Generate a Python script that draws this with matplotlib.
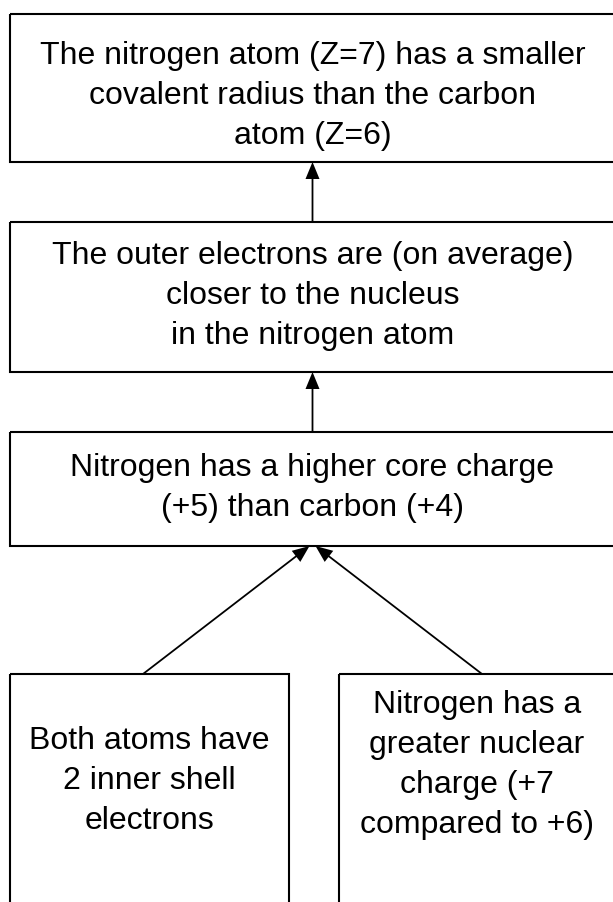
import matplotlib.pyplot as plt
from matplotlib.patches import Rectangle

plt.rcParams['font.family'] = ['Liberation Sans', 'DejaVu Sans']

# box texts (one entry per line)
texts = [
    ["The nitrogen atom (Z=7) has a smaller", "covalent radius than the carbon", "atom (Z=6)"],
    ["The outer electrons are (on average)", "closer to the nucleus", "in the nitrogen atom"],
    ["Nitrogen has a higher core charge", "(+5) than carbon (+4)"],
    ["Both atoms have", "2 inner shell", "electrons"],
    ["Nitrogen has a", "greater nuclear", "charge (+7", "compared to +6)"],
]

# layout in pixels: left, top, right, bottom, first baseline
boxes = [
    (10, 14, 615, 162, 64),
    (10, 222, 615, 372, 264),
    (10, 432, 615, 546, 476),
    (10, 674, 289, 910, 749),
    (339, 674, 615, 910, 713),
]

# arrows: source box, target box, x offset at source, x offset at target
edges = [(1, 0, 0, 0), (2, 1, 0, 0), (3, 2, -6.5, -3), (4, 2, 5, 3)]

W, H = 613, 902
fig = plt.figure(figsize=(W / 100, H / 100), dpi=100)
ax = fig.add_axes([0, 0, 1, 1])
ax.set_xlim(0, W)
ax.set_ylim(H, 0)
ax.axis("off")

line_gap = 40
for (x0, y0, x1, y1, base), lines in zip(boxes, texts):
    ax.add_patch(Rectangle((x0, y0), x1 - x0, y1 - y0, fill=False, ec="black", lw=1.5))
    cx = (x0 + x1) / 2
    for i, ln in enumerate(lines):
        ax.text(cx, base + i * line_gap, ln, ha="center", va="baseline",
                fontsize=23, color="black")

for src, dst, dxs, dxd in edges:
    sx0, sy0, sx1, sy1, _ = boxes[src]
    tx0, ty0, tx1, ty1, _ = boxes[dst]
    xs, ys = (sx0 + sx1) / 2 + dxs, sy0
    xe, ye = (tx0 + tx1) / 2 + dxd, ty1
    ax.arrow(xs, ys, xe - xs, ye - ys, width=1.8, head_width=14, head_length=17,
             length_includes_head=True, fc="black", ec="black", lw=0)

fig.savefig("out.png", dpi=100)
